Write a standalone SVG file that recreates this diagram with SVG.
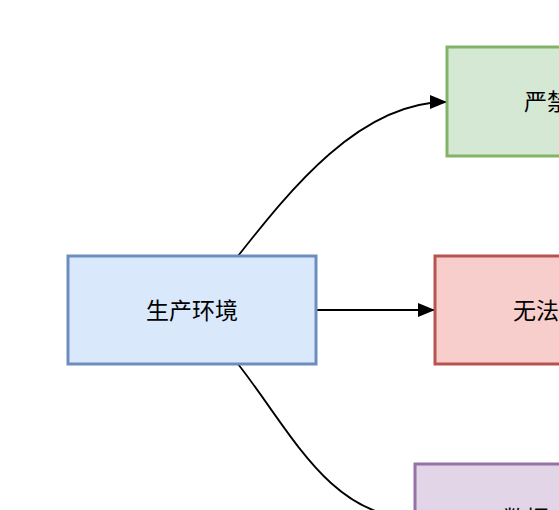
<svg xmlns="http://www.w3.org/2000/svg" width="559" height="510" viewBox="0 0 559 510">
<style>
.n{stroke-width:3}
.t{font-family:"Noto Sans CJK SC","Liberation Sans",sans-serif;font-size:23px;fill:#000}
.e{fill:none;stroke:#000;stroke-width:1.8}
</style>
<defs>
<marker id="a" markerWidth="17" markerHeight="14" refX="16" refY="7" orient="auto" markerUnits="userSpaceOnUse">
<path d="M0,0 L17,7 L0,14 Z" fill="#000"/>
</marker>
</defs>
<rect width="559" height="510" fill="#fff"/>
<g id="connectors">
<path class="e" d="M238,256 C290,190 360,102 446,102" marker-end="url(#a)"/>
<path class="e" d="M316,310 H434" marker-end="url(#a)"/>
<path class="e" d="M238,364 C290,430 330,518 414,518" marker-end="url(#a)"/>
</g>
<g id="prod">
<rect class="n" x="68" y="256" width="248" height="108" fill="#dae8fc" stroke="#6c8ebf"/>
<text class="t" x="192" y="319" text-anchor="middle">生产环境</text>
</g>
<g id="green">
<rect class="n" x="447" y="47" width="200" height="109" fill="#d5e8d4" stroke="#82b366"/>
<text class="t" x="524" y="110">严禁</text>
</g>
<g id="red">
<rect class="n" x="435" y="256" width="200" height="108" fill="#f8cecc" stroke="#b85450"/>
<text class="t" x="513" y="319">无法</text>
</g>
<g id="purple">
<rect class="n" x="415" y="464" width="200" height="108" fill="#e1d5e7" stroke="#9673a6"/>
<text class="t" x="503" y="527">数据</text>
</g>
</svg>
